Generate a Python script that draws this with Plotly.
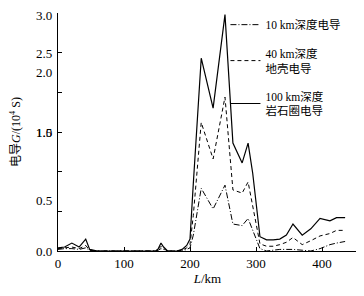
import plotly.graph_objects as go

# Distance along profile (km)
dist_km = [0, 10, 21, 32, 42, 48, 60, 100, 148, 152, 156, 160, 166, 180, 188, 195, 200, 205,
           217, 235, 253, 265, 279, 288, 295, 306, 316, 326, 336, 346, 356, 370, 383, 397, 412, 422, 435]

# Conductance (10^4 S)
g_100km = [0.04, 0.05, 0.10, 0.05, 0.15, 0.02, 0.0, 0.0, 0.0, 0.03, 0.10, 0.05, 0.0, 0.0, 0.02, 0.07, 0.15, 0.85,
           2.43, 1.80, 2.98, 1.36, 1.11, 1.36, 0.98, 0.18, 0.14, 0.14, 0.15, 0.20, 0.34, 0.20, 0.28, 0.41, 0.38, 0.42, 0.42]
g_40km = [0.03, 0.04, 0.05, 0.03, 0.07, 0.01, 0.0, 0.0, 0.0, 0.02, 0.06, 0.03, 0.0, 0.0, 0.01, 0.04, 0.08, 0.45,
          1.62, 1.16, 1.94, 0.77, 0.73, 0.87, 0.55, 0.09, 0.06, 0.06, 0.08, 0.11, 0.17, 0.08, 0.13, 0.19, 0.22, 0.26, 0.26]
g_10km = [0.02, 0.03, 0.03, 0.02, 0.04, 0.01, 0.0, 0.0, 0.0, 0.01, 0.03, 0.02, 0.0, 0.0, 0.0, 0.02, 0.04, 0.20,
          0.79, 0.53, 0.83, 0.34, 0.32, 0.41, 0.26, 0.03, 0.0, 0.01, 0.02, 0.02, 0.02, 0.01, 0.0, 0.03, 0.08, 0.10, 0.12]

series_names = ["10 km深度电导", "40 km深度<br>地壳电导", "100 km深度<br>岩石圈电导"]

x_ticks = [0, 100, 200, 300, 400]
y_tick_marks = [0, 0.5, 1.0, 1.5, 2.0, 2.5, 3.0]
# tick labels as printed (positions as they appear in the figure)
y_label_text = ["0.0", "0.5", "1.0", "1.5", "2.0", "2.5", "3.0"]
y_label_pos = [0.0, 0.64, 1.49, 1.49, 2.25, 2.49, 2.97]

FONT = "'Liberation Serif', 'Noto Sans CJK SC', serif"

fig = go.Figure()
fig.add_trace(go.Scatter(x=dist_km, y=g_10km, mode="lines", name=series_names[0], legendgroup="a",
                         line=dict(color="black", width=1, dash="6px,2px,1px,2px")))
fig.add_trace(go.Scatter(x=dist_km, y=g_40km, mode="lines", name=series_names[1], legendgroup="b",
                         line=dict(color="black", width=1, dash="4px,3px")))
fig.add_trace(go.Scatter(x=dist_km, y=g_100km, mode="lines", name=series_names[2], legendgroup="c",
                         line=dict(color="black", width=1.2)))

for txt, pos in zip(y_label_text, y_label_pos):
    fig.add_annotation(x=0, xref="paper", y=pos, yref="y", text=txt, showarrow=False,
                       xanchor="right", yanchor="middle", xshift=-4,
                       font=dict(family=FONT, size=13, color="black"))

# page body has an 8px margin, so the figure is sized to fit the window
fig.update_layout(
    width=356, height=288,
    margin=dict(l=50, r=7, t=5, b=45, autoexpand=False),
    paper_bgcolor="white", plot_bgcolor="white",
    font=dict(family=FONT, size=13, color="black"),
    showlegend=True,
    legend=dict(x=0.56, y=1.012, xanchor="left", yanchor="top", bgcolor="rgba(0,0,0,0)",
                font=dict(family=FONT, size=11.5, color="black"), tracegroupgap=10,
                traceorder="grouped", itemwidth=30),
    xaxis=dict(range=[0, 453], tickvals=x_ticks, ticks="inside", ticklen=4, tickcolor="black",
               showline=True, linecolor="black", linewidth=1, showgrid=False, zeroline=False,
               automargin=False,
               title=dict(text="<i>L</i>/km", standoff=2, font=dict(family=FONT, size=13)),
               tickfont=dict(family=FONT, size=13)),
    yaxis=dict(range=[0, 3.0], tickvals=y_tick_marks, ticks="inside", ticklen=4, tickcolor="black",
               showticklabels=False, automargin=False,
               showline=True, linecolor="black", linewidth=1, showgrid=False, zeroline=False,
               title=dict(text="电导<i>G</i>/(10<sup>4</sup> S)", standoff=36,
                          font=dict(family=FONT, size=12))),
)

fig.write_html("out.html")
